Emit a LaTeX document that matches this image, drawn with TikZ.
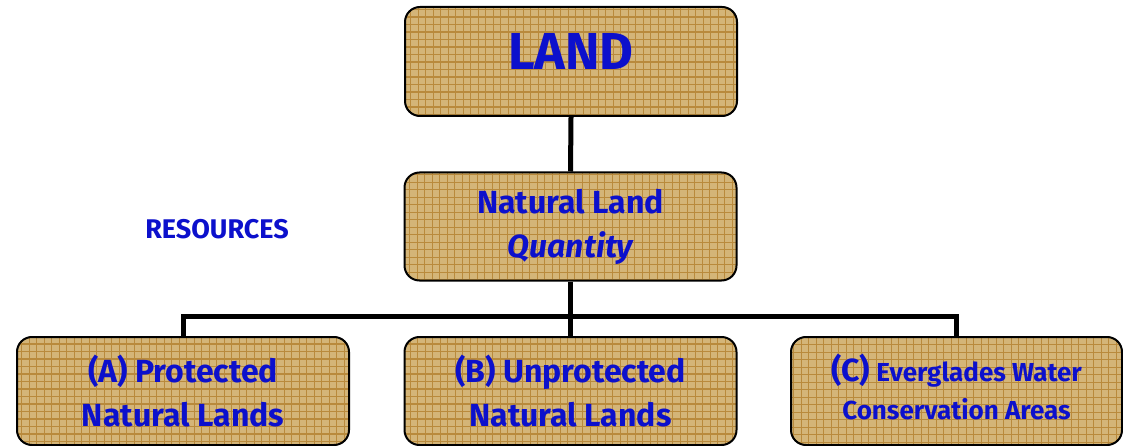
\documentclass[tikz,border=0pt]{standalone}
\usepackage{fontspec}
\setmainfont{Fira Sans}
\usepackage{xcolor}
\definecolor{landTan}{HTML}{D4B578}
\definecolor{landGrid}{HTML}{B98A3C}
\definecolor{landBlue}{HTML}{0C10CC}
\usepackage{tikz}

\begin{document}
\begin{tikzpicture}[x=1pt, y=-1pt,
  landbox/.style={draw=black, line width=2pt, fill=landTan, rounded corners=15pt,
        minimum width=332pt, minimum height=108pt, align=center, text=landBlue,
        font=\bfseries\fontsize{32}{44}\selectfont,
        path picture={\draw[landGrid, line width=1.1pt]
          (path picture bounding box.south west) grid[step=7.5pt]
          (path picture bounding box.north east);}},
  link/.style={line width=5pt, black}]
  \useasboundingbox (0,0) rectangle (1123,446);

  % Top
  \node[landbox, minimum height=109pt, font=\bfseries\fontsize{52}{56}\selectfont]
        (land) at (571,61.5) {\raisebox{0pt}[36pt][20pt]{LAND}};
  \node[landbox] (natland) at (570.5,226.5)
        {\raisebox{0pt}[\height][\depth]{Natural Land}\\ \itshape Quantity};

  % Side label
  \node[text=landBlue, font=\bfseries\fontsize{27}{30}\selectfont] (resources) at (217,229) {RESOURCES};

  % Bottom row
  \node[landbox] (protected) at (183,391)
        {(A) Protected\\ Natural Lands};
  \node[landbox] (unprotected) at (570.5,391)
        {(B) Unprotected\\ Natural Lands};
  \node[landbox, minimum width=331pt, font=\bfseries\fontsize{26}{38}\selectfont]
        (everglades) at (956.5,391)
        {\raisebox{0pt}[0.5\height][\depth]{\fontsize{32}{38}\selectfont (C)} Everglades Water\\
         Conservation Areas};

  % Links
  \coordinate (bus) at (570.5,316);
  \draw[link] (land.south) -- (natland.north);
  \draw[link] (natland.south) -- (unprotected.north);
  \draw[link] (protected.north) |- (bus) -| (everglades.north);
\end{tikzpicture}
\end{document}
